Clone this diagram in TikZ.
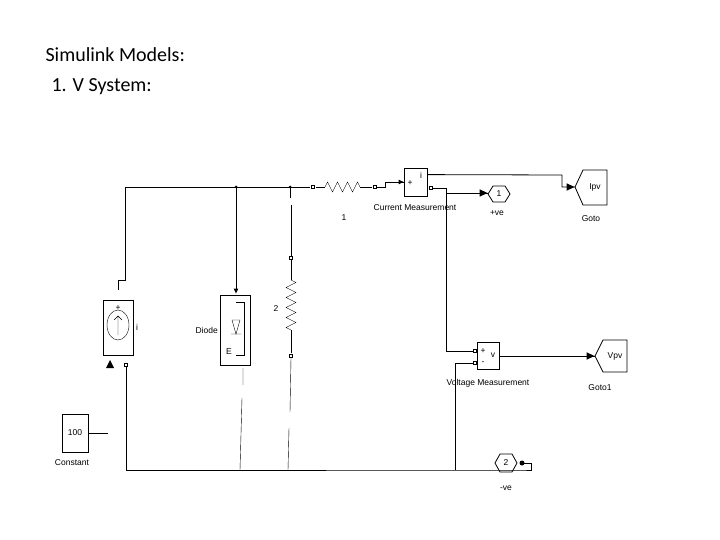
\documentclass[tikz,border=0pt]{standalone}
\usepackage{fontspec}
\setmainfont{Liberation Sans}
\newfontfamily\titlefont{Carlito}
\usetikzlibrary{shapes.geometric, decorations.pathmorphing}

\begin{document}
\begin{tikzpicture}[x=1pt,y=-1pt,
    block/.style={rectangle, draw, thick, inner sep=0pt},
    port/.style={rectangle, draw, minimum size=3pt, inner sep=0pt, fill=white},
    lbl/.style={font=\fontsize{8.5}{10}\selectfont, inner sep=1pt},
    goto/.style={draw, thick},
    tipr/.style={fill, isosceles triangle, isosceles triangle apex angle=50, minimum height=8pt, inner sep=0pt, anchor=apex},
    zig/.style={decorate, decoration={zigzag, segment length=10pt, amplitude=5pt}}]
    \useasboundingbox (0,0) rectangle (720,540);
    % Title
    \node[anchor=west, font=\titlefont\fontsize{20}{24}\selectfont] (title) at (42,55) {Simulink Models:};
    \node[anchor=west, font=\titlefont\fontsize{20}{24}\selectfont] (sub) at (48,87) {1. V System:};
    % Blocks
    \node (src) [block, minimum width=30pt, minimum height=55pt] at (118,328) {};
    \draw (118,325) circle [x radius=11pt, y radius=15pt];
    \draw (118,335) -- (118,316) (114,320) -- (118,316) -- (122,320);
    \node[lbl] at (118,308) {+};
    \node (srci) [lbl] at (137,327) {i};
    \node (dio) [block, minimum width=30pt, minimum height=70pt] at (235,330) {};
    \draw (232,320) -- (240,320) -- (236,334) -- cycle (231,334) -- (241,334);
    \draw (236,302) -- (244,302) -- (244,355) -- (236,355);
    \node[lbl] at (229,352) {E};
    \node (diol) [lbl, anchor=east] at (219,330) {Diode};
    \node (cm) [block, minimum width=23pt, minimum height=28pt] at (416,182) {};
    \node[lbl] at (410,183) {+};
    \node[lbl] at (421,175) {i};
    \node (cml) [lbl] at (415,208) {Current Measurement};
    \node (vm) [block, minimum width=22pt, minimum height=27pt] at (488,356) {};
    \node[lbl] at (483,351) {+};
    \node[lbl] at (483,363) {-};
    \node[lbl] at (493,355) {v};
    \node (vml) [lbl] at (488,383) {Voltage Measurement};
    \node (const) [block, minimum width=26pt, minimum height=38pt, font=\fontsize{8.5}{10}\selectfont] at (75,433) {100};
    \node (constl) [lbl] at (72,463) {Constant};
    % Goto blocks
    \draw[goto] (575,187) -- (583,170) -- (607,170) -- (607,205) -- (583,205) -- cycle;
    \node (ipv) [lbl] at (595,187) {Ipv};
    \node (gotol) [lbl] at (591,219) {Goto};
    \draw[goto] (595,356) -- (603,340) -- (627,340) -- (627,372) -- (603,372) -- cycle;
    \node (vpv) [lbl] at (615,356) {Vpv};
    \node (goto1l) [lbl] at (600,388) {Goto1};
    % Ports
    \draw[goto] (488,194) -- (493,186) -- (505,186) -- (510,194) -- (505,202) -- (493,202) -- cycle;
    \node (pin) [lbl] at (499,194) {1};
    \node (pinl) [lbl] at (497,213) {+ve};
    \draw[goto] (495,463) -- (500,454) -- (512,454) -- (517,463) -- (512,472) -- (500,472) -- cycle;
    \node (nin) [lbl] at (506,463) {2};
    \node (ninl) [lbl] at (506,488) {-ve};
    % Wires
    \coordinate (tl) at (125,187);
    \coordinate (bl) at (126,470);
    \draw (118,290) -- (118,280) -- (125,280) -- (tl) -- (310,187);
    \node[port] (r1a) at (313,187) {};
    \draw[zig] (325,187) -- (360,187);
    \draw (316,187) -- (325,187) (360,187) -- (372,187);
    \node[port] (r1b) at (375,187) {};
    \node (r1l) [lbl] at (344,218) {1};
    \draw[thick] (377,187) -- (385,187) -- (385,182) -- (cm.west);
    \node[tipr, minimum height=5pt] at (cm.west) {};
    \fill (236,187) circle (1.5pt) (290,187) circle (1.5pt);
    \draw (236,187) -- (236,290);
    \node[tipr, minimum height=5pt, rotate=-90] at (236,294) {};
    \draw (290,187) -- (290,198) (291,205) -- (291,258);
    \node[port] (r2a) at (291,258) {};
    \draw (291,260) -- (291,280);
    \draw[zig] (291,280) -- (291,330);
    \draw (291,330) -- (291,353);
    \node[port] (r2b) at (291,356) {};
    \node (r2l) [lbl] at (276,309) {2};
    \draw (291,358) -- (290,412) (289,428) -- (288,470);
    \draw (243,368) -- (243,385) (242,398) -- (240,470);
    \node[port] (srcb) at (126,365) {};
    \fill (106,368) -- (110,360) -- (114,368) -- cycle;
    \draw (srcb) -- (bl) -- (522,470) -- (531,470) -- (531,463) -- (524,463);
    \fill (522,463) circle (2.5pt);
    \draw (const.east) -- (108,433);
    \draw[thick] (cm.north east) ++(0,7) -- (562,175) -- (562,187) -- (575,187);
    \node[tipr] at (575,187) {};
    \node[port] (cmn) at (431,188) {};
    \draw (cmn) -- (446,188) -- (446,351) -- (473,351);
    \draw[thick] (446,193) -- (488,193);
    \node[tipr] at (488,193) {};
    \node[port] (vmp) at (475,351) {};
    \node[port] (vmn) at (475,363) {};
    \draw (vmn) -- (455,363) -- (455,470);
    \draw[thick] (vm.east) -- (595,356);
    \node[tipr] at (595,356) {};
\end{tikzpicture}
\end{document}
